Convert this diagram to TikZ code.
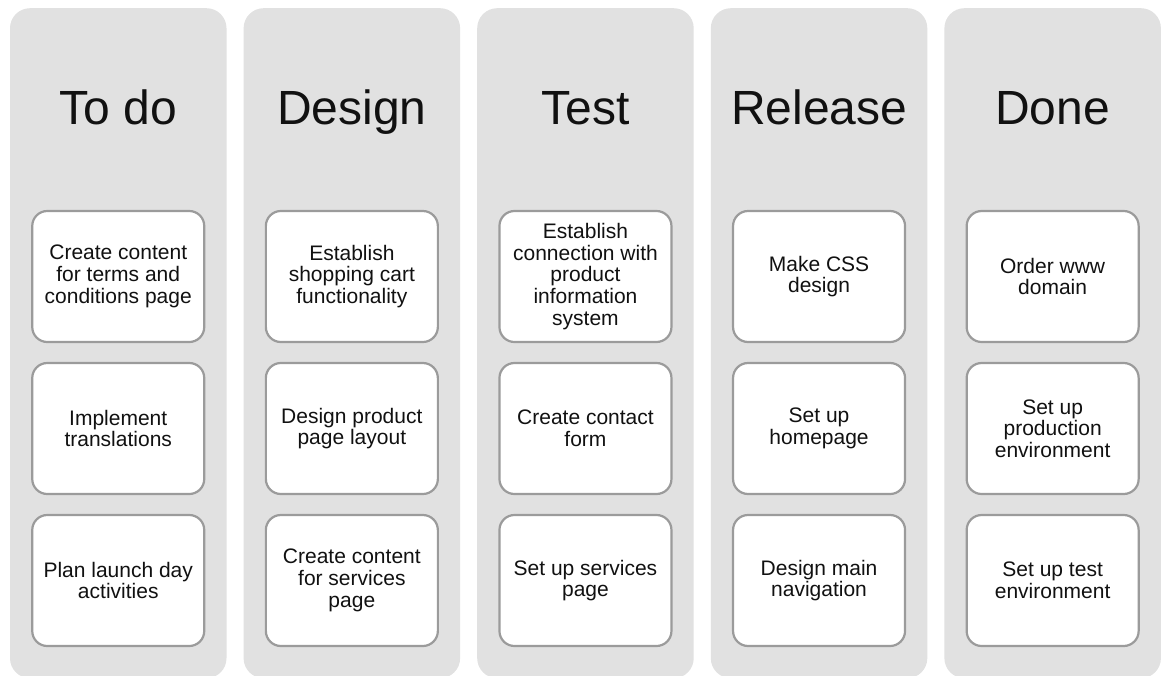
\documentclass[tikz,border=0pt]{standalone}
\usepackage{fontspec}
\setmainfont{Liberation Sans}
\definecolor{lanebg}{HTML}{E1E1E1}
\definecolor{cardline}{HTML}{9B9B9B}
\definecolor{inktext}{HTML}{111111}
\begin{document}
\begin{tikzpicture}[x=1pt,y=1pt,
  lane/.style={fill=lanebg, draw=none, rounded corners=20pt,
    minimum width=216.5pt, minimum height=670pt, inner sep=0pt, anchor=north},
  lanetitle/.style={font=\fontsize{48}{52}\selectfont, anchor=base, text=inktext},
  card/.style={draw=cardline, line width=2.2pt, fill=white, rounded corners=15pt,
    minimum width=172pt, minimum height=131pt, inner sep=0pt, align=center,
    font=\fontsize{21}{21.7}\selectfont, text=inktext}]
\useasboundingbox (0,0) rectangle (1161,-675);
\begin{scope}
\clip (0,0) rectangle (1161,-675);
% swimlanes with their headings
\foreach \i/\t in {1/To do,2/Design,3/Test,4/Release,5/Done}{
  \pgfmathsetmacro\cx{118.25+233.6*(\i-1)}
  \node[lane] (lane\i) at (\cx,-8) {};
  \node[lanetitle] (head\i) at (\cx,-124) {\t};
}
% To do
\node[card] (c11) at (118.25,-276.5) {Create content\\for terms and\\conditions page};
\node[card] (c12) at (118.25,-428.5) {Implement\\translations};
\node[card] (c13) at (118.25,-580.5) {Plan launch day\\activities};
% Design
\node[card] (c21) at (351.85,-276.5) {Establish\\shopping cart\\functionality};
\node[card] (c22) at (351.85,-428.5) {Design product\\page layout};
\node[card] (c23) at (351.85,-580.5) {Create content\\for services\\page};
% Test
\node[card] (c31) at (585.45,-276.5) {Establish\\connection with\\product\\information\\system};
\node[card] (c32) at (585.45,-428.5) {Create contact\\form};
\node[card] (c33) at (585.45,-580.5) {Set up services\\page};
% Release
\node[card] (c41) at (819.05,-276.5) {Make CSS\\design};
\node[card] (c42) at (819.05,-428.5) {Set up\\homepage};
\node[card] (c43) at (819.05,-580.5) {Design main\\navigation};
% Done
\node[card] (c51) at (1052.65,-276.5) {Order www\\domain};
\node[card] (c52) at (1052.65,-428.5) {Set up\\production\\environment};
\node[card] (c53) at (1052.65,-580.5) {Set up test\\environment};
\end{scope}
\end{tikzpicture}
\end{document}
